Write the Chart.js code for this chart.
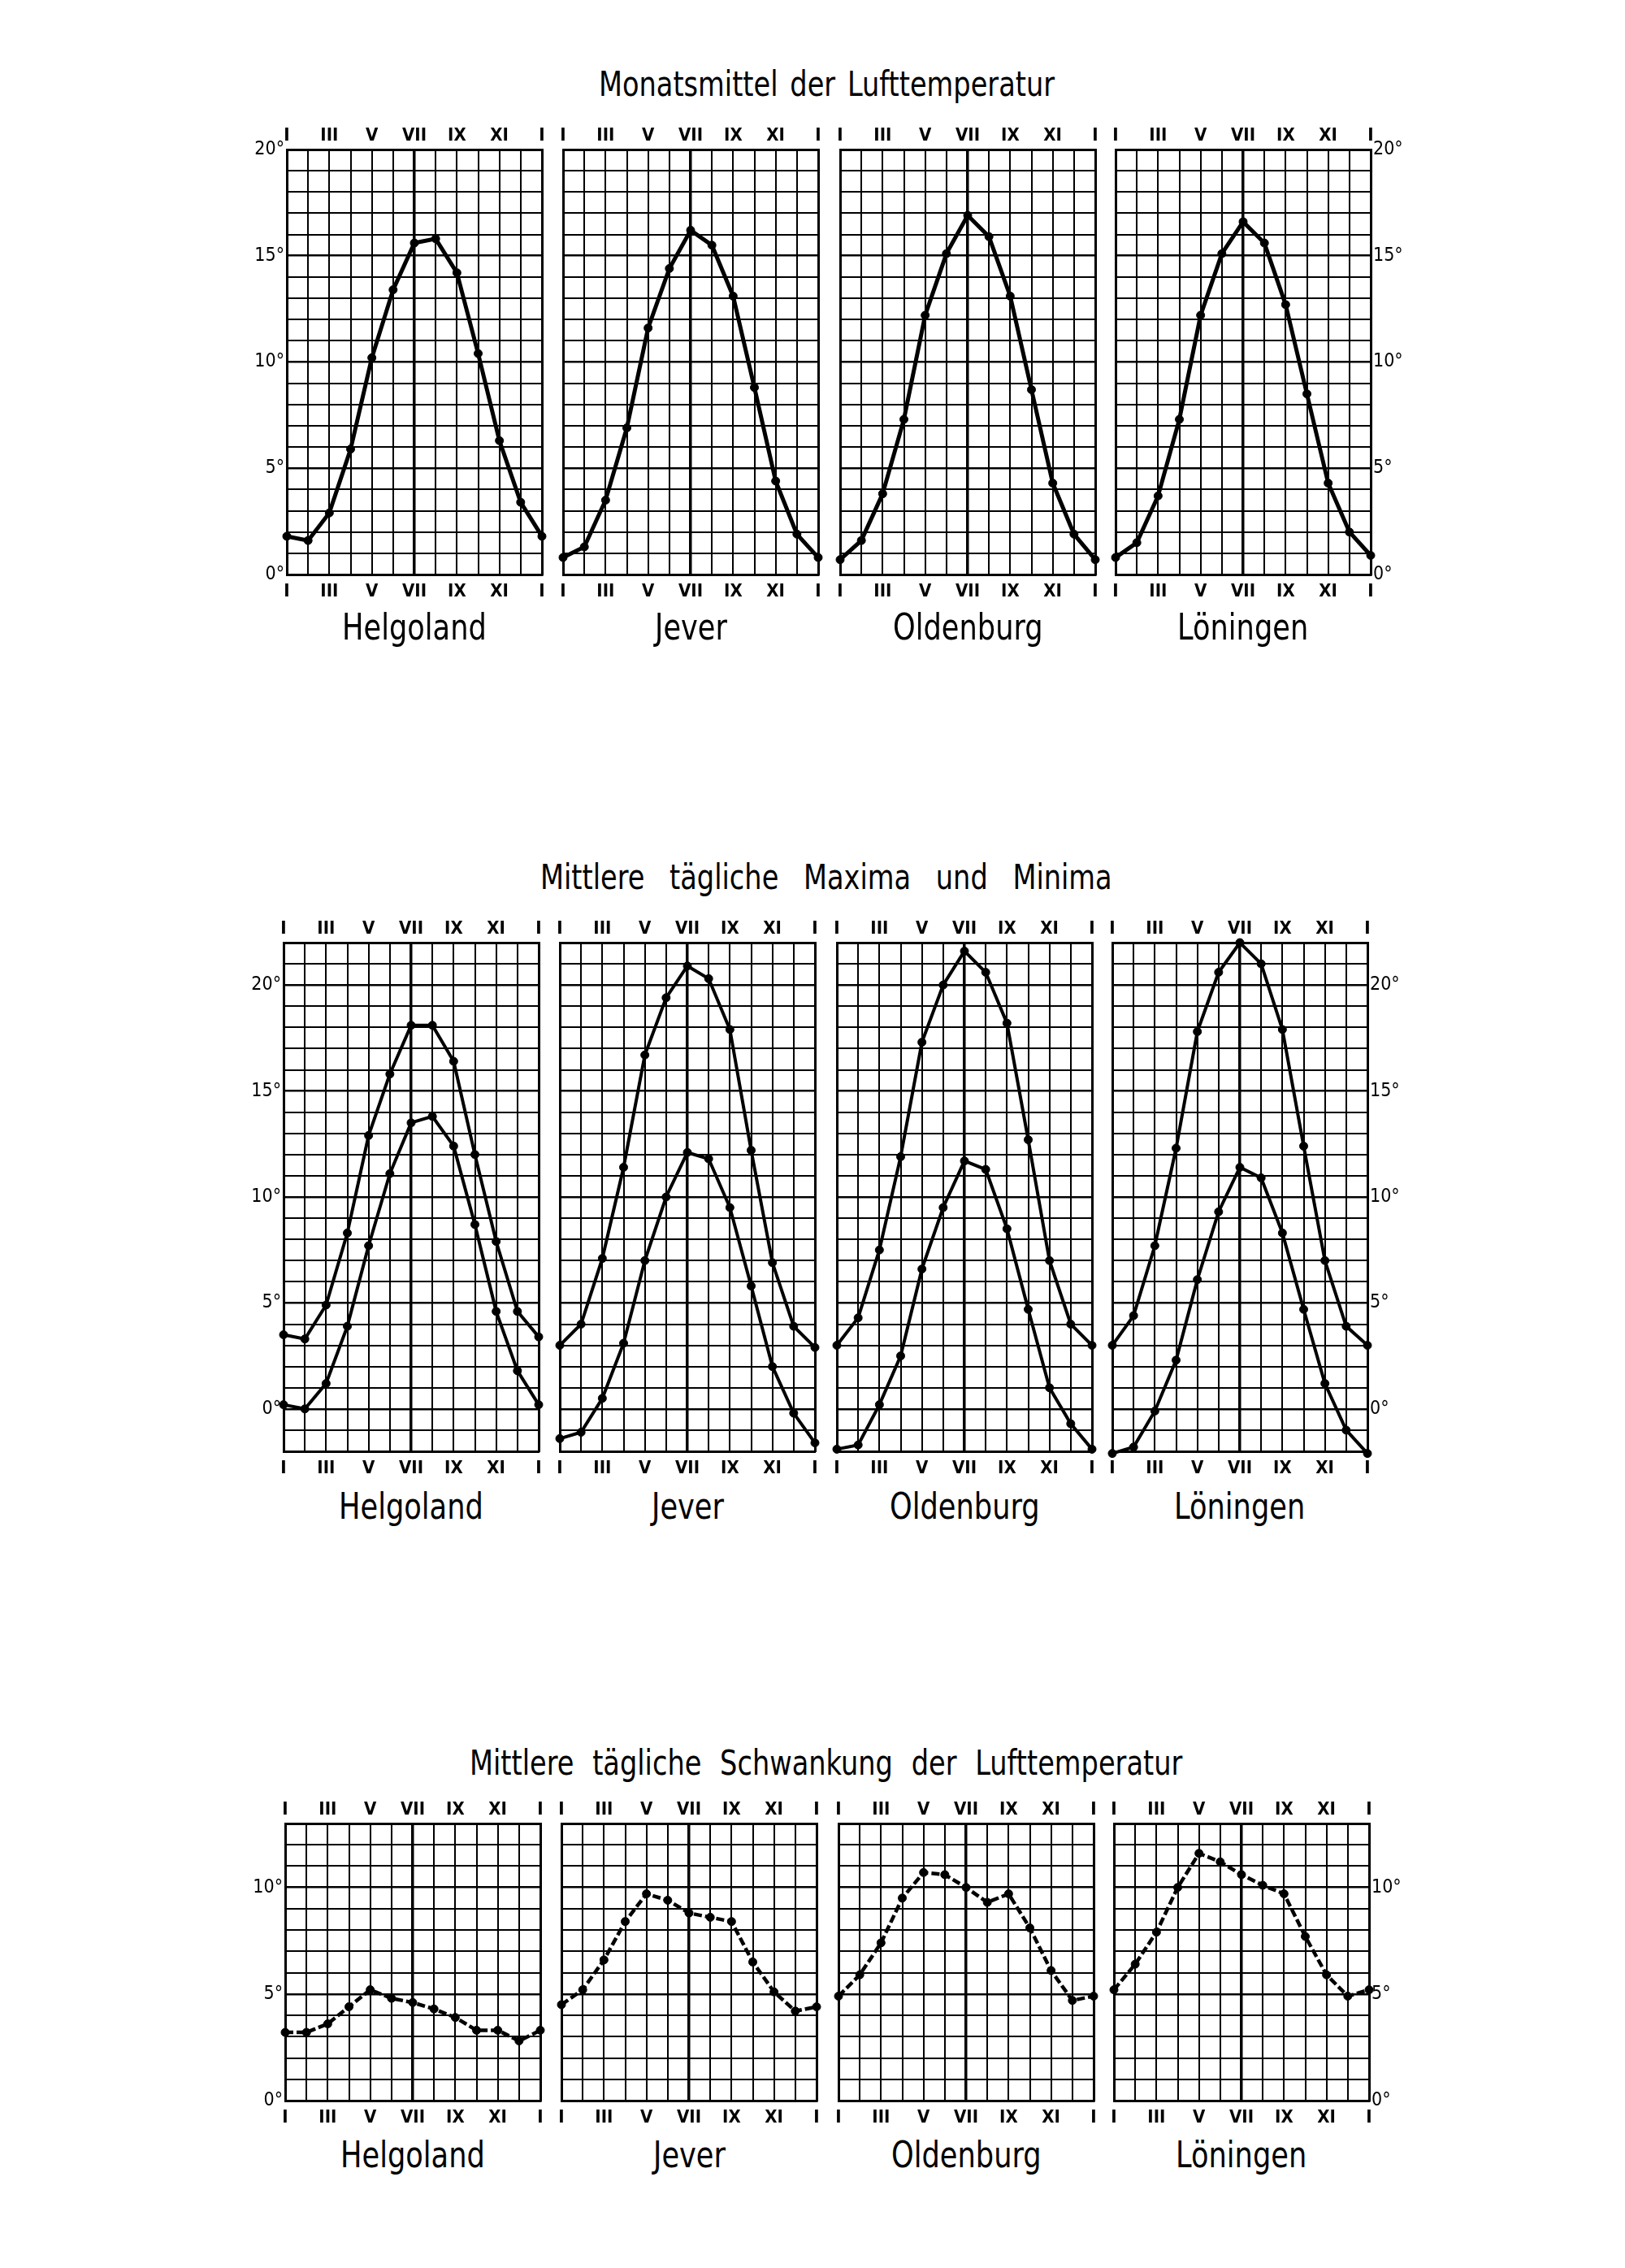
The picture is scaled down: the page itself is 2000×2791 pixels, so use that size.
<!DOCTYPE html>
<html>
<head>
<meta charset="utf-8">
<script src="https://cdn.jsdelivr.net/npm/chart.js@4.4.1/dist/chart.umd.min.js"></script>
<style>
  body { margin: 0; background: #fff; width: 2000px; height: 2791px; position: relative; overflow: hidden;
         font-family: 'DejaVu Sans', sans-serif; color: #000; }
  .txt { position: absolute; white-space: nowrap; line-height: 1; transform-origin: 0 50%; }
  .panel { position: absolute; }
</style>
</head>
<body>
<script>
// months I..XII and back to I (13 points)
const monthTicks = ['I', '', 'III', '', 'V', '', 'VII', '', 'IX', '', 'XI', '', 'I'];
const stations = ['Helgoland', 'Jever', 'Oldenburg', 'Löningen'];

// Monatsmittel der Lufttemperatur
const meanHelgoland = [1.8, 1.6, 2.9, 5.9, 10.2, 13.4, 15.6, 15.8, 14.2, 10.4, 6.3, 3.4, 1.8];
const meanJever     = [0.8, 1.3, 3.5, 6.9, 11.6, 14.4, 16.2, 15.5, 13.1, 8.8, 4.4, 1.9, 0.8];
const meanOldenburg = [0.7, 1.6, 3.8, 7.3, 12.2, 15.1, 16.9, 15.9, 13.1, 8.7, 4.3, 1.9, 0.7];
const meanLoeningen = [0.8, 1.5, 3.7, 7.3, 12.2, 15.1, 16.6, 15.6, 12.7, 8.5, 4.3, 2.0, 0.9];

// Mittlere tägliche Maxima und Minima
const maxHelgoland = [3.5, 3.3, 4.9, 8.3, 12.9, 15.8, 18.1, 18.1, 16.4, 12.0, 7.9, 4.6, 3.4];
const minHelgoland = [0.2, 0.0, 1.2, 3.9, 7.7, 11.1, 13.5, 13.8, 12.4, 8.7, 4.6, 1.8, 0.2];
const maxJever     = [3.0, 4.0, 7.1, 11.4, 16.7, 19.4, 20.9, 20.3, 17.9, 12.2, 6.9, 3.9, 2.9];
const minJever     = [-1.4, -1.1, 0.5, 3.1, 7.0, 10.0, 12.1, 11.8, 9.5, 5.8, 2.0, -0.2, -1.6];
const maxOldenburg = [3.0, 4.3, 7.5, 11.9, 17.3, 20.0, 21.6, 20.6, 18.2, 12.7, 7.0, 4.0, 3.0];
const minOldenburg = [-1.9, -1.7, 0.2, 2.5, 6.6, 9.5, 11.7, 11.3, 8.5, 4.7, 1.0, -0.7, -1.9];
const maxLoeningen = [3.0, 4.4, 7.7, 12.3, 17.8, 20.6, 22.0, 21.0, 17.9, 12.4, 7.0, 3.9, 3.0];
const minLoeningen = [-2.1, -1.8, -0.1, 2.3, 6.1, 9.3, 11.4, 10.9, 8.3, 4.7, 1.2, -1.0, -2.1];

// Mittlere tägliche Schwankung der Lufttemperatur
const rangeHelgoland = [3.2, 3.2, 3.6, 4.4, 5.2, 4.8, 4.6, 4.3, 3.9, 3.3, 3.3, 2.8, 3.3];
const rangeJever     = [4.5, 5.2, 6.6, 8.4, 9.7, 9.4, 8.8, 8.6, 8.4, 6.5, 5.1, 4.2, 4.4];
const rangeOldenburg = [4.9, 5.9, 7.4, 9.5, 10.7, 10.6, 10.0, 9.3, 9.7, 8.1, 6.1, 4.7, 4.9];
const rangeLoeningen = [5.2, 6.4, 7.9, 10.0, 11.6, 11.2, 10.6, 10.1, 9.7, 7.7, 5.9, 4.9, 5.2];

const rows = [
  { title: 'Monatsmittel der Lufttemperatur', titleY: 104, titleW: 561, nameY: 772,
    top: 184, height: 523, shift: 2, yMin: 0, yMax: 20, lineWidth: 5, dash: [],
    series: [[meanHelgoland], [meanJever], [meanOldenburg], [meanLoeningen]] },
  { title: 'Mittlere tägliche Maxima und Minima', titleY: 1080, titleW: 704, nameY: 1854,
    top: 1160, height: 626, shift: -2, yMin: -2, yMax: 22, lineWidth: 4, dash: [],
    series: [[maxHelgoland, minHelgoland], [maxJever, minJever], [maxOldenburg, minOldenburg], [maxLoeningen, minLoeningen]] },
  { title: 'Mittlere tägliche Schwankung der Lufttemperatur', titleY: 2170, titleW: 877, nameY: 2652,
    top: 2244, height: 341, shift: 0, yMin: 0, yMax: 13, lineWidth: 4.5, dash: [10, 4],
    series: [[rangeHelgoland], [rangeJever], [rangeOldenburg], [rangeLoeningen]] }
];

const panelLeft = [351, 691, 1032, 1371];
const PANEL_W = 314;
const PAD_X = 60, PAD_T = 40, PAD_B = 40;
const SQUEEZE = 0.8;   // narrow lettering like the original

Chart.defaults.font.family = "'DejaVu Sans Condensed', 'DejaVu Sans', sans-serif";
Chart.defaults.color = '#000';

// places a text centred at (cx, cy), squeezed horizontally, optionally stretched to width w
function placeText(text, cx, cy, size, w) {
  const el = document.createElement('span');
  el.className = 'txt';
  el.textContent = text;
  el.style.fontSize = size + 'px';
  document.body.appendChild(el);
  if (w) {
    const gaps = text.split(' ').length - 1;
    const natural = el.offsetWidth;
    if (gaps > 0) el.style.wordSpacing = ((w / SQUEEZE - natural) / gaps) + 'px';
  }
  const width = el.offsetWidth * SQUEEZE;
  el.style.left = (cx - width / 2) + 'px';
  el.style.top = (cy - el.offsetHeight / 2) + 'px';
  el.style.transform = `scaleX(${SQUEEZE})`;
}

function degLabel(show) {
  return (v) => (show && v >= 0 && v % 5 === 0) ? v + '°' : '';
}

function addPanel(row, col) {
  const x0 = panelLeft[col] + row.shift;
  const wrap = document.createElement('div');
  wrap.className = 'panel';
  wrap.style.left = (x0 - PAD_X) + 'px';
  wrap.style.top = (row.top - PAD_T) + 'px';
  const canvas = document.createElement('canvas');
  canvas.width = PANEL_W + 2 * PAD_X;
  canvas.height = row.height + PAD_T + PAD_B;
  wrap.appendChild(canvas);
  document.body.appendChild(wrap);

  const datasets = row.series[col].map(values => ({
    data: values.map((v, i) => ({ x: i, y: v })),
    borderColor: '#000',
    backgroundColor: '#000',
    borderWidth: row.lineWidth,
    borderDash: row.dash,
    pointRadius: 5,
    pointBorderWidth: 1,
    pointBackgroundColor: '#000',
    tension: 0,
    clip: false
  }));

  const monthAxis = (position, withGrid) => ({
    type: 'linear', position, min: 0, max: 12,
    afterFit: s => { s.height = position === 'top' ? PAD_T : PAD_B; },
    ticks: {
      stepSize: 1, autoSkip: false, maxRotation: 0,
      padding: position === 'top' ? 4 : 8,
      font: { size: 22, weight: 'bold' },
      callback: v => monthTicks[v]
    },
    grid: {
      display: withGrid, drawTicks: false, color: '#000',
      lineWidth: c => c.tick && c.tick.value === 6 ? 3.5 : 2
    },
    border: { display: true, color: '#000', width: 3 }
  });

  const tempAxis = (position, showLabels, withGrid) => ({
    type: 'linear', position, min: row.yMin, max: row.yMax,
    afterFit: s => { s.width = PAD_X; },
    ticks: {
      stepSize: 1, autoSkip: false, padding: 3,
      font: { size: 23 },
      callback: degLabel(showLabels)
    },
    grid: {
      display: withGrid, drawTicks: false, color: '#000',
      lineWidth: c => c.tick && c.tick.value % 5 === 0 ? 2.6 : 2
    },
    border: { display: true, color: '#000', width: 3 }
  });

  new Chart(canvas, {
    type: 'line',
    data: { datasets },
    options: {
      responsive: false,
      animation: false,
      layout: { padding: 0 },
      plugins: { legend: { display: false }, tooltip: { enabled: false } },
      scales: {
        x: monthAxis('bottom', true),
        xTop: monthAxis('top', false),
        y: tempAxis('left', col === 0, true),
        yRight: tempAxis('right', col === 3, false)
      }
    }
  });

  placeText(stations[col], x0 + PANEL_W / 2, row.nameY, 44);
}

rows.forEach(row => {
  placeText(row.title, 1017, row.titleY, 42, row.titleW);
  for (let c = 0; c < 4; c++) addPanel(row, c);
});
</script>
</body>
</html>
